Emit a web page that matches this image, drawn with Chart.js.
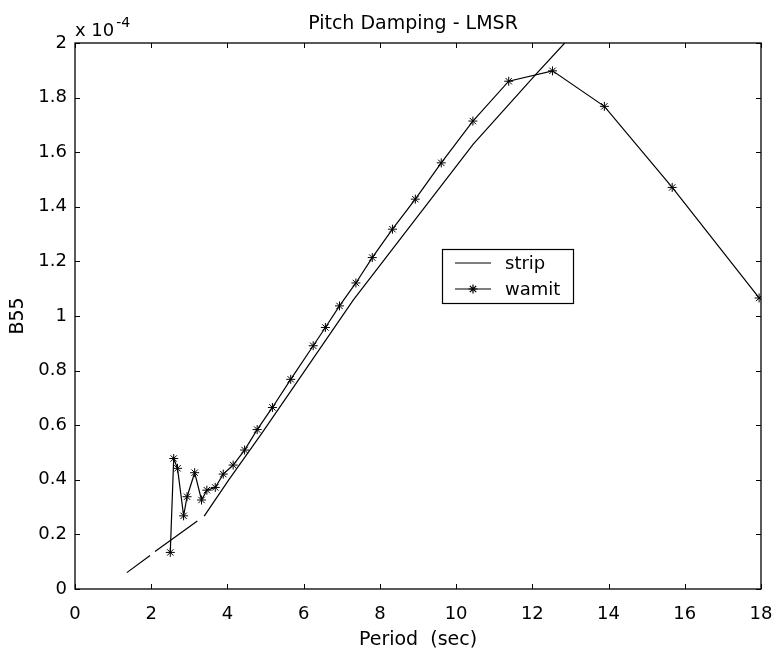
<!DOCTYPE html>
<html>
<head>
<meta charset="utf-8">
<script src="https://cdn.jsdelivr.net/npm/chart.js@4/dist/chart.umd.min.js"></script>
<style>
  html, body { margin: 0; padding: 0; background: #fff; }
  #wrap { width: 774px; height: 655px; }
</style>
</head>
<body>
<div id="wrap"><canvas id="dampingChart"></canvas></div>
<script>
// B55 values are in units of 1e-4 (axis shows "x 10^-4")
const stripPeriod = [1.36, 1.97, 2.03, 2.10, 3.21, 3.30, 3.39, 4.03, 4.90, 5.86, 7.30, 10.45, 12.11, 12.85];
const stripB55    = [0.060, 0.123, null, 0.137, 0.249, null, 0.267, 0.399, 0.570, 0.765, 1.058, 1.630, 1.888, 2.000];

const wamitPeriod = [2.50, 2.59, 2.69, 2.85, 2.94, 3.14, 3.32, 3.46, 3.68, 3.89, 4.15, 4.45, 4.78, 5.18, 5.66,
                     6.25, 6.57, 6.94, 7.37, 7.80, 8.33, 8.93, 9.61, 10.44, 11.38, 12.53, 13.89, 15.67, 17.95];
const wamitB55    = [0.134, 0.478, 0.442, 0.268, 0.338, 0.426, 0.326, 0.362, 0.372, 0.421, 0.454, 0.509, 0.584, 0.665, 0.768,
                     0.891, 0.958, 1.037, 1.121, 1.214, 1.318, 1.428, 1.561, 1.714, 1.860, 1.898, 1.768, 1.471, 1.066];

const xTicks = [0, 2, 4, 6, 8, 10, 12, 14, 16, 18];
const yTicks = [0, 0.2, 0.4, 0.6, 0.8, 1, 1.2, 1.4, 1.6, 1.8, 2];

const FONT = "'DejaVu Sans', sans-serif";

const toPoints = (xs, ys) => xs.map((x, i) => ({ x: x, y: ys[i] }));

// matlab style box with inward ticks on all four sides, title and exponent
const framePlugin = {
  id: "frame",
  afterDraw(chart) {
    const { ctx, chartArea: a, scales } = chart;
    ctx.save();
    ctx.strokeStyle = "#000";
    ctx.lineWidth = 1;
    ctx.beginPath();
    xTicks.forEach(v => {
      const px = Math.round(scales.x.getPixelForValue(v)) + 0.5;
      ctx.moveTo(px, a.bottom); ctx.lineTo(px, a.bottom - 5);
      ctx.moveTo(px, a.top); ctx.lineTo(px, a.top + 5);
    });
    yTicks.forEach(v => {
      const py = Math.round(scales.y.getPixelForValue(v)) + 0.5;
      ctx.moveTo(a.left, py); ctx.lineTo(a.left + 5, py);
      ctx.moveTo(a.right, py); ctx.lineTo(a.right - 5, py);
    });
    ctx.stroke();
    ctx.lineWidth = 1.3;
    ctx.strokeRect(a.left, a.top, a.right - a.left, a.bottom - a.top);

    ctx.fillStyle = "#000";
    ctx.textBaseline = "middle";
    ctx.textAlign = "center";
    ctx.font = "19px " + FONT;
    ctx.fillText("Pitch Damping - LMSR", (a.left + a.right) / 2 - 5, 24);

    ctx.textBaseline = "alphabetic";
    ctx.textAlign = "left";
    ctx.font = "18px " + FONT;
    ctx.fillText("x 10", a.left, a.top - 7);
    const w = ctx.measureText("x 10").width;
    ctx.font = "14px " + FONT;
    ctx.fillText("-4", a.left + w + 2, a.top - 16);
    ctx.restore();
  }
};

// legend box inside the plot
const boxLegendPlugin = {
  id: "boxLegend",
  afterDraw(chart) {
    const { ctx } = chart;
    const x0 = 442, y0 = 249, w = 131, h = 54;
    ctx.save();
    ctx.fillStyle = "#fff";
    ctx.fillRect(x0, y0, w, h);
    ctx.strokeStyle = "#000";
    ctx.lineWidth = 1.2;
    ctx.strokeRect(x0 + 0.5, y0 + 0.5, w, h);
    chart.data.datasets.forEach((ds, i) => {
      const y = y0 + 14 + i * 26;
      ctx.strokeStyle = ds.borderColor;
      ctx.lineWidth = ds.borderWidth;
      ctx.beginPath();
      ctx.moveTo(x0 + 13, y);
      ctx.lineTo(x0 + 49, y);
      ctx.stroke();
      if (ds.pointRadius > 0) {
        Chart.helpers.drawPoint(ctx, {
          pointStyle: ds.pointStyle, radius: ds.pointRadius, borderWidth: 1, rotation: 0
        }, x0 + 31, y);
      }
      ctx.fillStyle = "#000";
      ctx.font = "18px " + FONT;
      ctx.textAlign = "left";
      ctx.textBaseline = "middle";
      ctx.fillText(ds.label, x0 + 63, y + 1);
    });
    ctx.restore();
  }
};

new Chart(document.getElementById("dampingChart"), {
  type: "scatter",
  data: {
    datasets: [
      {
        label: "strip",
        data: toPoints(stripPeriod, stripB55),
        showLine: true,
        spanGaps: false,
        borderColor: "#000",
        borderWidth: 1.2,
        pointRadius: 0,
        tension: 0
      },
      {
        label: "wamit",
        data: toPoints(wamitPeriod, wamitB55),
        showLine: true,
        borderColor: "#000",
        backgroundColor: "#000",
        borderWidth: 1.2,
        pointStyle: "star",
        pointRadius: 4.5,
        pointBorderWidth: 1,
        tension: 0
      }
    ]
  },
  plugins: [framePlugin, boxLegendPlugin],
  options: {
    responsive: true,
    maintainAspectRatio: false,
    animation: false,
    layout: { padding: { left: 0, right: 13, top: 43, bottom: 0 } },
    plugins: {
      legend: { display: false },
      tooltip: { enabled: false },
      title: { display: false }
    },
    scales: {
      x: {
        type: "linear",
        min: 0,
        max: 18,
        afterFit: s => { s.height = 66; s.paddingLeft = 0; s.paddingRight = 0; },
        afterBuildTicks: s => { s.ticks = xTicks.map(v => ({ value: v })); },
        grid: { display: false, drawTicks: false },
        border: { display: false },
        ticks: { color: "#000", padding: 15, font: { family: FONT, size: 18 } },
        title: {
          display: true,
          text: "Period  (sec)",
          color: "#000",
          font: { family: FONT, size: 19 },
          padding: { top: 0, bottom: 4 }
        }
      },
      y: {
        type: "linear",
        min: 0,
        max: 2,
        afterFit: s => { s.width = 75; s.paddingTop = 0; s.paddingBottom = 0; },
        afterBuildTicks: s => { s.ticks = yTicks.map(v => ({ value: v })); },
        grid: { display: false, drawTicks: false },
        border: { display: false },
        ticks: {
          color: "#000",
          padding: 8,
          font: { family: FONT, size: 18 },
          callback: v => String(Math.round(v * 10) / 10)
        },
        title: {
          display: true,
          text: "B55",
          color: "#000",
          font: { family: FONT, size: 19 },
          padding: { top: 7, bottom: 0 }
        }
      }
    }
  }
});
</script>
</body>
</html>
